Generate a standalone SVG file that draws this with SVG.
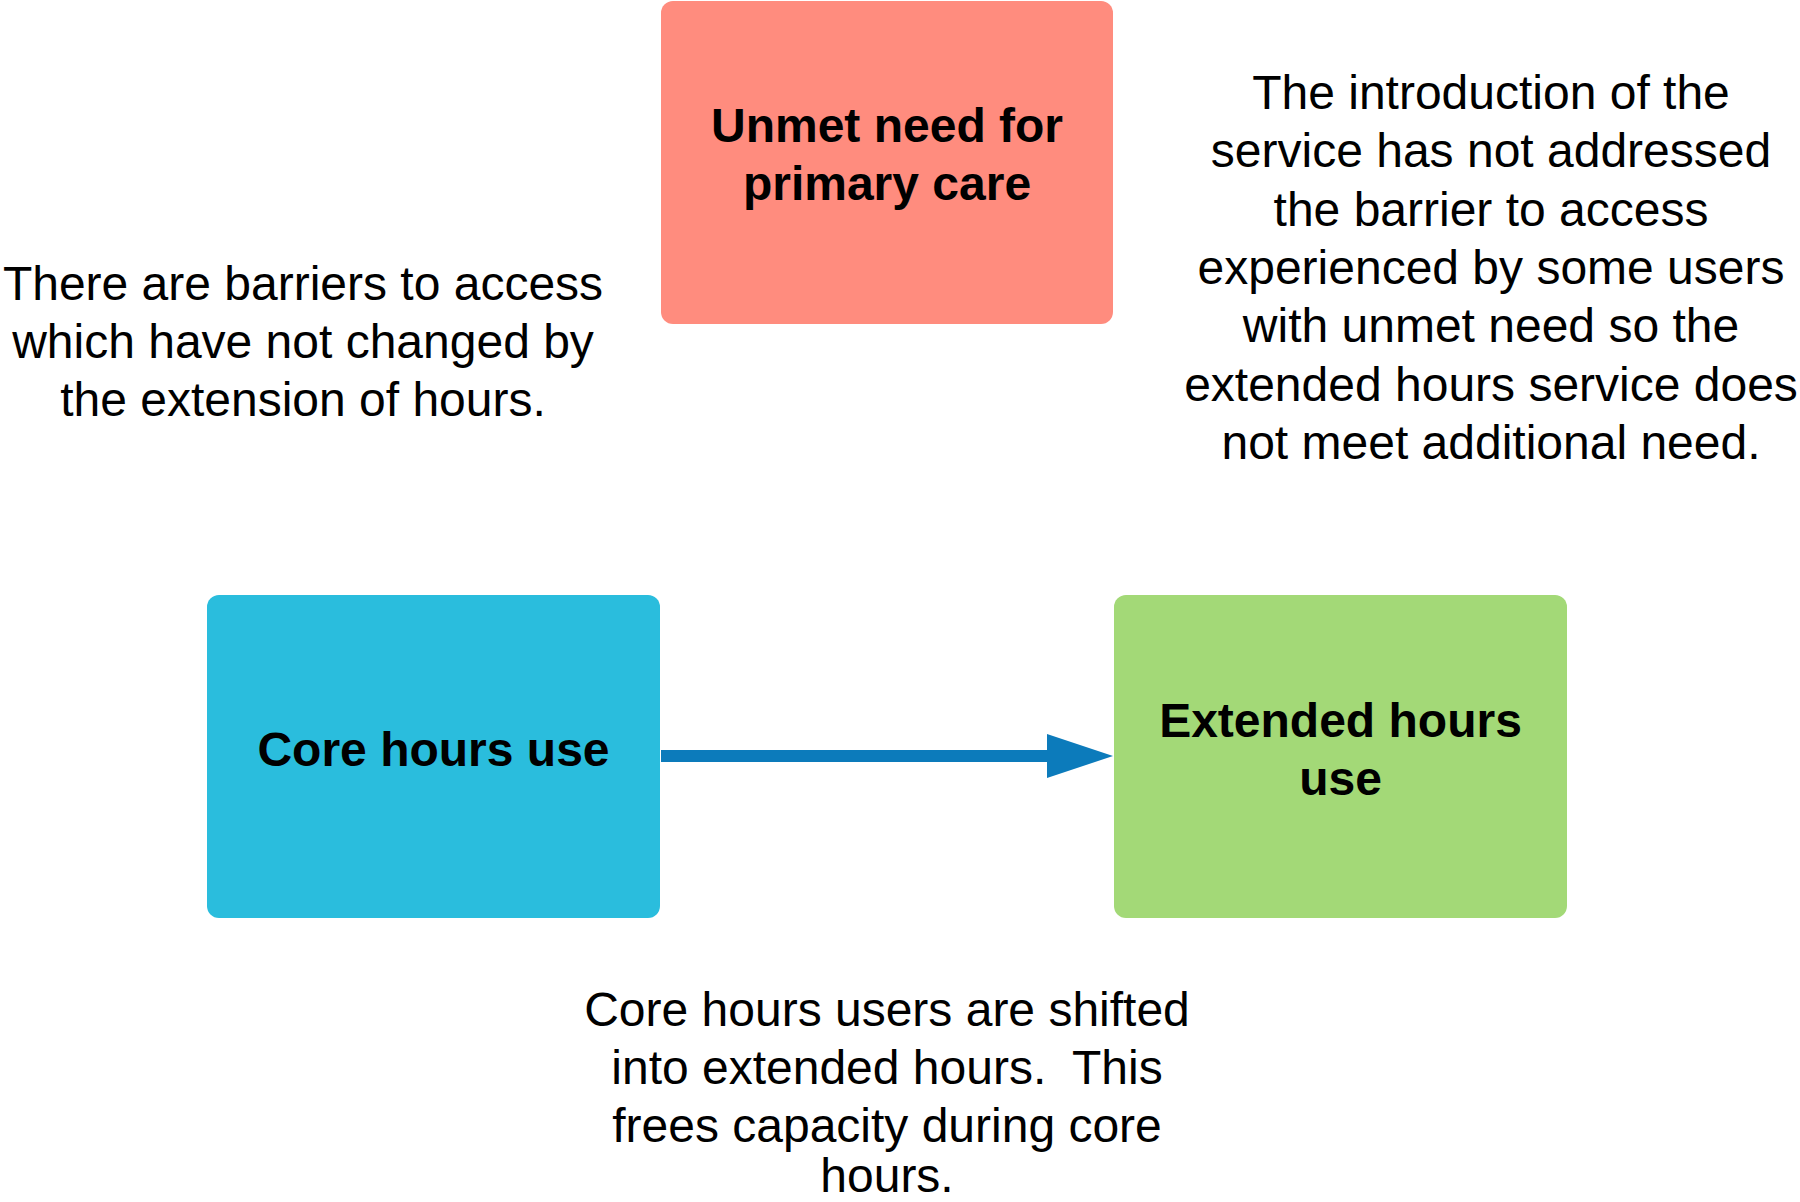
<svg xmlns="http://www.w3.org/2000/svg" width="1800" height="1202" viewBox="0 0 1800 1202">
<defs>
<style>
.box-label{font-family:"Liberation Sans",Arial,sans-serif;font-weight:bold;font-size:48px;fill:#000;text-anchor:middle}
.note{font-family:"Liberation Sans",Arial,sans-serif;font-size:48px;fill:#000;text-anchor:middle;white-space:pre}
.conn{stroke:#0C7BBB;stroke-width:12;fill:none}
</style>
<marker id="arrow" markerUnits="userSpaceOnUse" markerWidth="66" markerHeight="44" refX="3" refY="22" orient="auto">
<path d="M0,0 L66,22 L0,44 Z" fill="#0C7BBB"/>
</marker>
</defs>
<rect width="1800" height="1202" fill="#fff"/>
<g id="unmet-need">
<rect x="661" y="1" width="452" height="323" rx="12" fill="#FF8C7E"/>
<text class="box-label" x="887" y="142">Unmet need for</text>
<text class="box-label" x="887" y="200">primary care</text>
</g>
<g id="core-hours">
<rect x="207" y="595" width="453" height="323" rx="12" fill="#2ABDDD"/>
<text class="box-label" x="433.5" y="766">Core hours use</text>
</g>
<g id="extended-hours">
<rect x="1114" y="595" width="453" height="323" rx="12" fill="#A3D977"/>
<text class="box-label" x="1340.5" y="737">Extended hours</text>
<text class="box-label" x="1340.5" y="795">use</text>
</g>
<g id="connectors">
<line class="conn" x1="661" y1="756" x2="1050" y2="756" marker-end="url(#arrow)"/>
</g>
<g id="note-barriers">
<text class="note" x="303" y="300">There are barriers to access</text>
<text class="note" x="303" y="358">which have not changed by</text>
<text class="note" x="303" y="416">the extension of hours.</text>
</g>
<g id="note-introduction">
<text class="note" x="1491" y="109">The introduction of the</text>
<text class="note" x="1491" y="167">service has not addressed</text>
<text class="note" x="1491" y="226">the barrier to access</text>
<text class="note" x="1491" y="284">experienced by some users</text>
<text class="note" x="1491" y="342">with unmet need so the</text>
<text class="note" x="1491" y="401">extended hours service does</text>
<text class="note" x="1491" y="459">not meet additional need.</text>
</g>
<g id="note-shift">
<text class="note" x="887" y="1026">Core hours users are shifted</text>
<text class="note" x="887" y="1084">into extended hours.  This</text>
<text class="note" x="887" y="1142">frees capacity during core</text>
<text class="note" x="887" y="1192">hours.</text>
</g>
</svg>
